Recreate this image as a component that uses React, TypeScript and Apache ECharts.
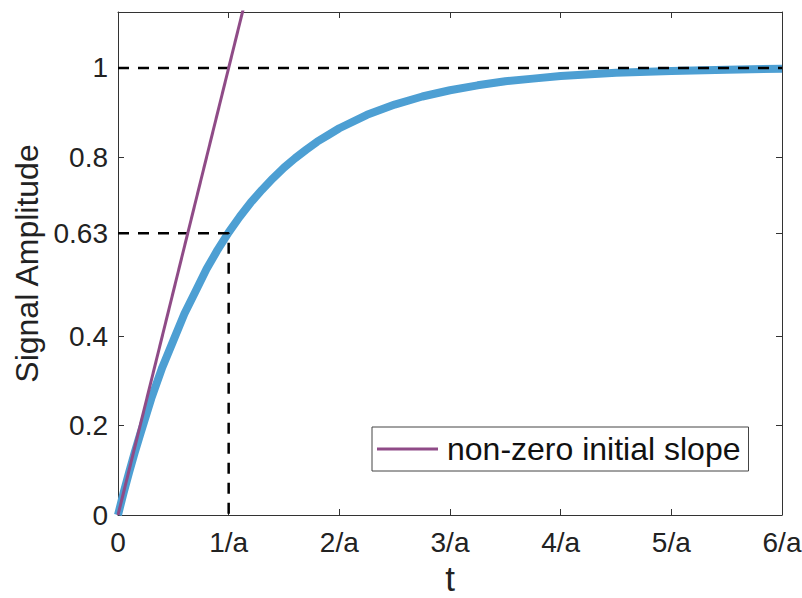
import React, { useEffect, useRef } from "react";
import * as echarts from "echarts";

const xTickValues = [0, 1, 2, 3, 4, 5, 6];
const xTickLabels = ["0", "1/a", "2/a", "3/a", "4/a", "5/a", "6/a"];
const yTickValues = [0, 0.2, 0.4, 0.63, 0.8, 1];
const yTickLabels = ["0", "0.2", "0.4", "0.63", "0.8", "1"];

const responseT = [0, 0.05, 0.1, 0.15, 0.2, 0.3, 0.4, 0.5, 0.6, 0.7, 0.8, 0.9, 1, 1.1, 1.2, 1.3, 1.4, 1.5, 1.6, 1.7, 1.8, 1.9, 2, 2.25, 2.5, 2.75, 3, 3.25, 3.5, 3.75, 4, 4.5, 5, 5.5, 6];
const responseY = [0, 0.049, 0.095, 0.139, 0.18, 0.26, 0.33, 0.39, 0.45, 0.5, 0.55, 0.593, 0.632, 0.667, 0.699, 0.727, 0.753, 0.777, 0.798, 0.817, 0.835, 0.85, 0.865, 0.895, 0.918, 0.936, 0.95, 0.961, 0.97, 0.976, 0.982, 0.989, 0.993, 0.996, 0.998];

const slopeT = [0, 1.2];
const slopeY = [0, 1.2];

const finalT = [0, 6];
const finalY = [1, 1];

const tauT = [0, 1, 1];
const tauY = [0.63, 0.63, 0];

const legendName = "non-zero initial slope";

const FONT = "'Liberation Sans', Arial, Helvetica, sans-serif";

function zip(a: number[], b: number[]) {
  return a.map((v, i) => [v, b[i]]);
}

export default function App() {
  const ref = useRef<HTMLDivElement>(null);
  useEffect(() => {
    const chart = echarts.init(ref.current!, null, { renderer: "svg" });
    const axisLine = { show: true, onZero: false, lineStyle: { color: "#333", width: 1 } };
    chart.setOption({
      animation: false,
      backgroundColor: "#fff",
      grid: { left: 118, right: 20, top: 12, bottom: 83, containLabel: false, outerBoundsMode: "none" },
      legend: {
        data: [{ name: legendName, icon: "rect" }],
        left: 372,
        top: 427,
        itemWidth: 61,
        itemHeight: 3,
        itemGap: 0,
        padding: [6, 8, 6, 5],
        borderColor: "#444",
        borderWidth: 1,
        backgroundColor: "#fff",
        textStyle: { fontFamily: FONT, fontSize: 32, color: "#111", padding: [0, 0, 0, 4] },
      },
      xAxis: [
        {
          type: "value",
          min: 0,
          max: 6,
          interval: 1,
          name: "t",
          nameLocation: "middle",
          nameGap: 44,
          nameTextStyle: { fontFamily: FONT, fontSize: 35, color: "#222" },
          axisLine,
          axisTick: { show: true, inside: true, length: 6, lineStyle: { color: "#333" } },
          splitLine: { show: false },
          axisLabel: {
            fontFamily: FONT,
            fontSize: 28,
            color: "#222",
            margin: 13,
            customValues: xTickValues,
            formatter: (v: number) => xTickLabels[xTickValues.indexOf(Math.round(v))] ?? "",
          },
        },
        {
          type: "value",
          position: "top",
          min: 0,
          max: 6,
          interval: 1,
          axisLine,
          axisTick: { show: true, inside: true, length: 6, lineStyle: { color: "#333" } },
          axisLabel: { show: false },
          splitLine: { show: false },
        },
      ],
      yAxis: [
        {
          type: "value",
          min: 0,
          max: 1.125,
          name: "Signal Amplitude",
          nameLocation: "middle",
          nameGap: 74,
          nameTextStyle: { fontFamily: FONT, fontSize: 32, color: "#222" },
          axisLine,
          axisTick: { show: true, inside: true, length: 6, customValues: yTickValues, lineStyle: { color: "#333" } },
          splitLine: { show: false },
          axisLabel: {
            fontFamily: FONT,
            fontSize: 28,
            color: "#222",
            margin: 10,
            customValues: yTickValues,
            formatter: (v: number) => {
              const i = yTickValues.findIndex((t) => Math.abs(t - v) < 1e-6);
              return i >= 0 ? yTickLabels[i] : "";
            },
          },
        },
        {
          type: "value",
          position: "right",
          min: 0,
          max: 1.125,
          axisLine,
          axisTick: { show: true, inside: true, length: 6, customValues: yTickValues, lineStyle: { color: "#333" } },
          axisLabel: { show: false, customValues: yTickValues },
          splitLine: { show: false },
        },
      ],
      series: [
        {
          name: "response",
          type: "line",
          data: zip(responseT, responseY),
          smooth: false,
          showSymbol: false,
          lineStyle: { color: "#4d9fd3", width: 8, join: "round" },
          z: 2,
        },
        {
          name: legendName,
          type: "line",
          data: zip(slopeT, slopeY),
          showSymbol: false,
          itemStyle: { color: "#8f4b87" },
          lineStyle: { color: "#8f4b87", width: 3 },
          z: 4,
        },
        {
          name: "final",
          type: "line",
          data: zip(finalT, finalY),
          showSymbol: false,
          lineStyle: { color: "#000", width: 2.5, type: [11, 9] },
          z: 3,
        },
        {
          name: "tau",
          type: "line",
          data: zip(tauT, tauY),
          showSymbol: false,
          lineStyle: { color: "#000", width: 2.5, type: [11, 9] },
          z: 3,
        },
      ],
    });
    return () => chart.dispose();
  }, []);
  return <div ref={ref} style={{ width: 802, height: 598, position: "absolute", left: 0, top: 0 }} />;
}
